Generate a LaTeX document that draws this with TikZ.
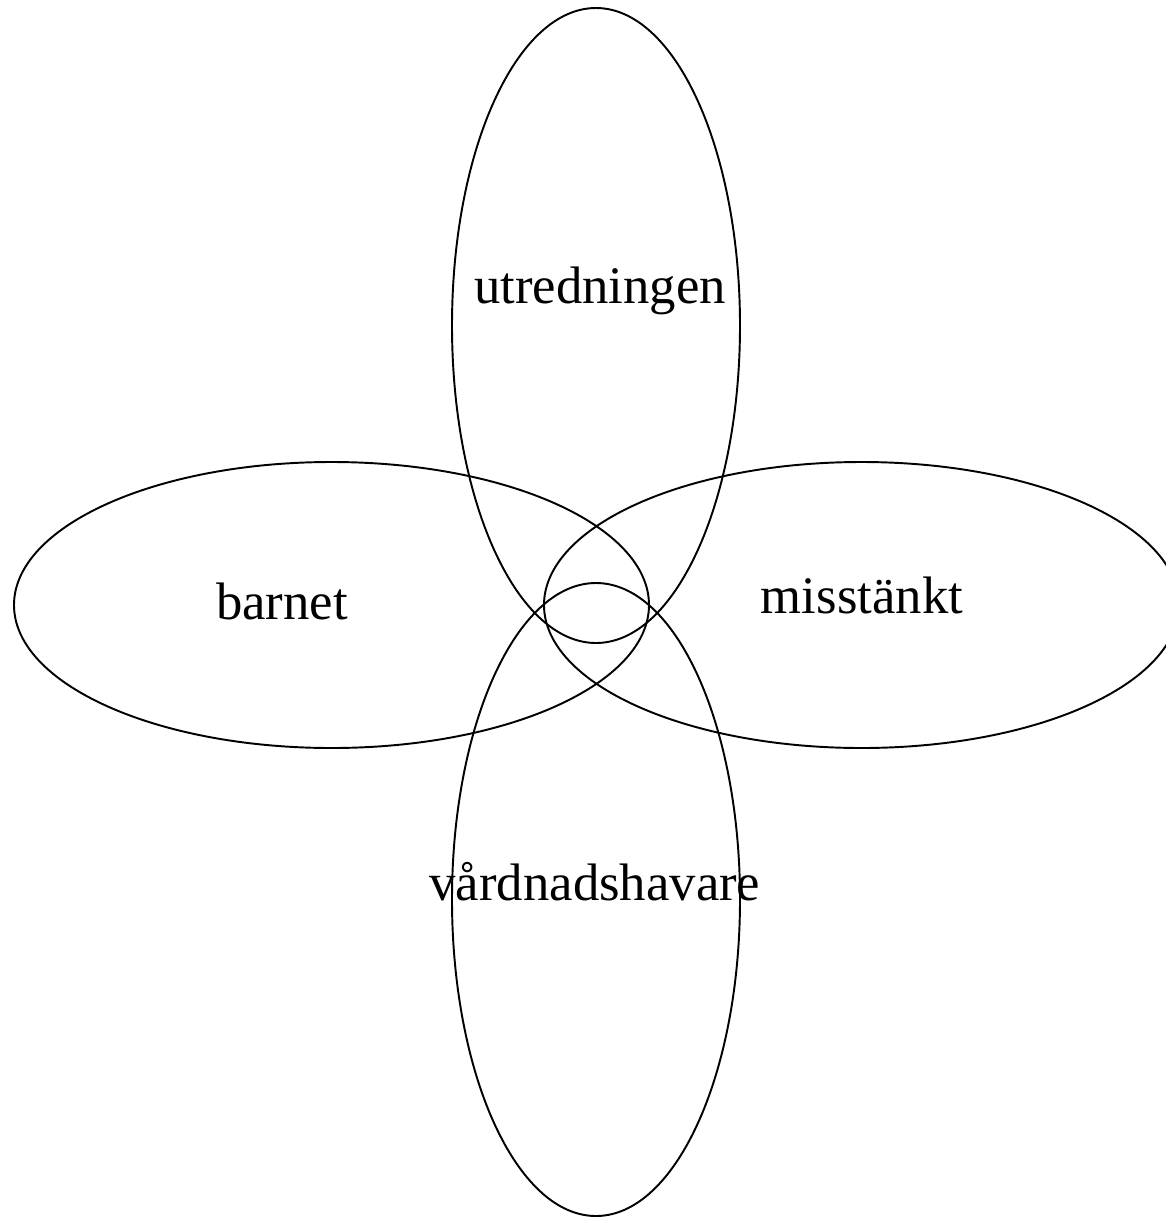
\documentclass[tikz,border=0pt]{standalone}
\usepackage{fontspec}
\setmainfont{Liberation Serif}
\usetikzlibrary{positioning}

\tikzset{
    setring/.style={draw=black, line width=1.1pt},
    setlabel/.style={anchor=base, inner sep=0pt, font=\fontsize{30}{36}\selectfont}
}

\begin{document}
\begin{tikzpicture}[x=0.02cm, y=-0.02cm]
                \useasboundingbox (0,0) rectangle (1166,1218);
                \clip (0,0) rectangle (1166,1218);
                
                \coordinate (U) at (596, 325.5);
                \coordinate (V) at (596, 899.5);
                \coordinate (B) at (331.5, 605);
                \coordinate (M) at (861.5, 605);
                
                \draw[setring] (U) ellipse (144 and 317.5);
                \draw[setring] (V) ellipse (144 and 316.5);
                \draw[setring] (B) ellipse (317.5 and 143);
                \draw[setring] (M) ellipse (317.5 and 143);
                
                \node[setlabel] (utredning) at (600, 303) {utredningen};
                \node[setlabel] (barnet) at (282, 619) {barnet};
                \node[setlabel] (misstankt) at (862, 613) {misstänkt};
                \node[setlabel] (vardnad) at (595, 900) {vårdnadshavare};
            \end{tikzpicture}
\end{document}
